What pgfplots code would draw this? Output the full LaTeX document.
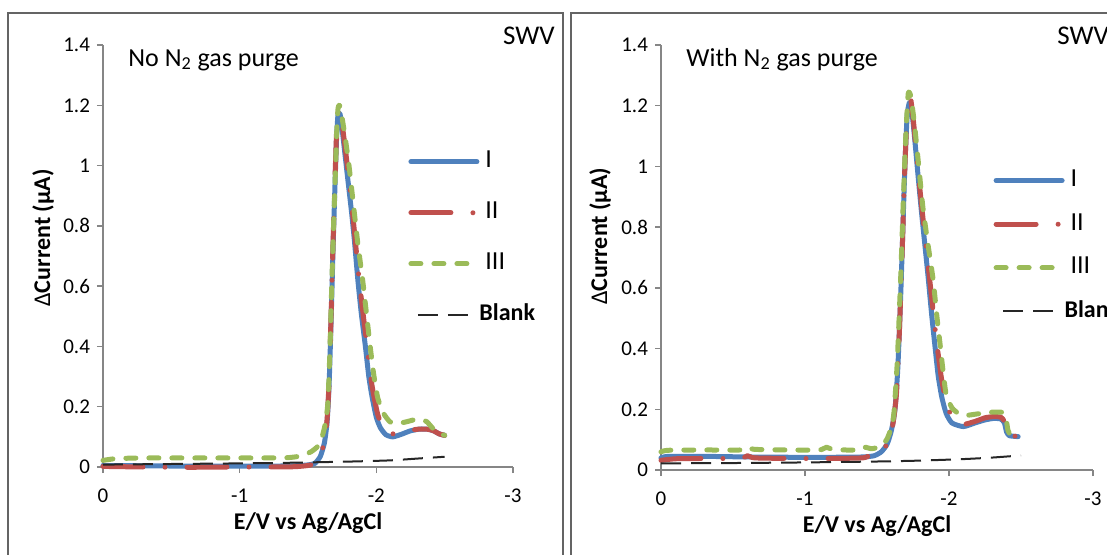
\documentclass[border=0pt]{standalone}
\usepackage{fontspec}
\setmainfont{Carlito}
\usepackage{pgfplots}
\pgfplotsset{compat=1.18}
\definecolor{xblue}{RGB}{79,129,189}
\definecolor{xred}{RGB}{192,80,77}
\definecolor{xgreen}{RGB}{155,187,89}
\definecolor{axgray}{RGB}{134,134,134}
\definecolor{framegray}{RGB}{100,100,100}
\pgfplotsset{
  swv/.style={
    scale only axis, x dir=reverse, xmin=-3, xmax=0, ymin=0, ymax=1.4,
    axis x line*=bottom, axis y line*=left,
    axis line style={axgray, line width=0.7pt, -},
    xtick={-3,-2,-1,0}, ytick={0,0.2,0.4,0.6,0.8,1,1.2,1.4},
    tick align=outside, major tick length=3pt,
    tick style={axgray, line width=0.7pt},
    every tick label/.append style={font=\fontsize{10.5}{12}\selectfont},
    xticklabel style={yshift=-4.5pt},
    /pgf/number format/assume math mode=true,
    xlabel={E/V vs Ag/AgCl},
    xlabel style={font=\bfseries\fontsize{12}{14}\selectfont, at={(axis description cs:0.5,-0.133)}, anchor=center},
    ylabel={{\mdseries Δ}Current (µA)},
    ylabel style={font=\bfseries\fontsize{12}{14}\selectfont, anchor=center},
    clip=false,
    legend style={draw=none, fill=none, inner sep=0pt, anchor=west,
      font=\fontsize{13}{15}\selectfont, cells={anchor=west},
      nodes={inner sep=0pt, text height=9pt, text depth=3pt},
      column sep=3pt},
    legend image code/.code={\draw[#1] (0pt,0pt) -- (33pt,0pt);},
  },
  sI/.style={xblue, line width=2.5pt, line cap=round, line join=round, smooth, tension=0.35},
  sII/.style={xred, line width=2.5pt, line cap=round, line join=round, dash pattern=on 20pt off 11pt on 0pt off 11pt, smooth, tension=0.35},
  sIII/.style={xgreen, line width=2.5pt, line cap=round, line join=round, dash pattern=on 5pt off 6.5pt, smooth, tension=0.35},
  sB/.style={black!85, line width=1pt, dash pattern=on 10pt off 5pt, smooth, tension=0.35,
    legend image code/.code={\draw[##1] (3.5pt,0pt) -- (28.5pt,0pt);}},
}
\begin{document}
\begin{tikzpicture}
\useasboundingbox (0,0) rectangle (553.5pt,277pt);
\clip (0,0) rectangle (553.5pt,277pt);
\draw[framegray, line width=1pt] (281.5pt,-10pt) -- (281.5pt,270.5pt) -- (4pt,270.5pt) -- (4pt,-10pt);
\draw[framegray, line width=1pt] (600pt,270.5pt) -- (285.5pt,270.5pt) -- (285.5pt,-10pt);

\begin{axis}[swv, at={(51.5pt,43.5pt)}, anchor=south west, width=205pt, height=211pt,
  ylabel style={at={(axis description cs:-0.146,0.543)}},
  legend style={at={(axis description cs:0.744,0.542)}, row sep=13.5pt}]
\addplot[sI] coordinates {(0,0.005) (-0.3,0.004) (-0.6,0.003) (-0.9,0.003) (-1.2,0.003) (-1.4,0.004) (-1.5,0.007) (-1.55,0.012) (-1.59,0.035) (-1.62,0.08) (-1.64,0.15) (-1.655,0.28) (-1.67,0.5) (-1.685,0.75) (-1.70,0.97) (-1.71,1.10) (-1.72,1.17) (-1.735,1.17) (-1.75,1.12) (-1.78,1.00) (-1.80,0.92) (-1.82,0.84) (-1.84,0.75) (-1.865,0.62) (-1.89,0.51) (-1.92,0.40) (-1.945,0.30) (-1.97,0.23) (-2.00,0.165) (-2.03,0.13) (-2.07,0.107) (-2.12,0.10) (-2.18,0.108) (-2.25,0.12) (-2.32,0.126) (-2.38,0.125) (-2.42,0.12) (-2.46,0.11) (-2.5,0.105)};
\addlegendentry{I}
\addplot[sII] coordinates {(0,0.002) (-0.3,0.0) (-0.6,-0.001) (-0.9,0.0) (-1.2,0.0) (-1.4,0.001) (-1.5,0.005) (-1.55,0.012) (-1.59,0.038) (-1.62,0.085) (-1.64,0.16) (-1.655,0.29) (-1.67,0.52) (-1.685,0.77) (-1.70,0.99) (-1.71,1.12) (-1.72,1.18) (-1.735,1.18) (-1.755,1.12) (-1.78,1.03) (-1.80,0.95) (-1.82,0.87) (-1.84,0.78) (-1.87,0.64) (-1.90,0.52) (-1.93,0.41) (-1.955,0.31) (-1.98,0.24) (-2.01,0.175) (-2.04,0.14) (-2.08,0.118) (-2.12,0.11) (-2.18,0.113) (-2.25,0.122) (-2.32,0.126) (-2.38,0.125) (-2.42,0.12) (-2.46,0.11) (-2.5,0.105)};
\addlegendentry{II}
\addplot[sIII] coordinates {(0,0.022) (-0.1,0.028) (-0.3,0.03) (-0.6,0.03) (-0.9,0.03) (-1.2,0.03) (-1.35,0.031) (-1.44,0.036) (-1.52,0.05) (-1.57,0.068) (-1.60,0.095) (-1.625,0.14) (-1.645,0.21) (-1.66,0.38) (-1.675,0.62) (-1.69,0.84) (-1.70,0.97) (-1.71,1.11) (-1.72,1.19) (-1.73,1.20) (-1.745,1.17) (-1.77,1.10) (-1.80,1.00) (-1.83,0.88) (-1.865,0.74) (-1.90,0.62) (-1.93,0.50) (-1.955,0.40) (-1.98,0.31) (-2.01,0.23) (-2.05,0.18) (-2.10,0.15) (-2.16,0.145) (-2.22,0.15) (-2.28,0.157) (-2.33,0.158) (-2.37,0.15) (-2.41,0.13) (-2.45,0.115) (-2.5,0.105)};
\addlegendentry{III}
\addplot[sB] coordinates {(0,0.008) (-0.5,0.010) (-1.0,0.012) (-1.35,0.014) (-1.8,0.018) (-2.1,0.022) (-2.3,0.028) (-2.5,0.034)};
\addlegendentry{\hspace{-3pt}\textbf{\fontsize{12}{14}\selectfont Blank}}
\end{axis}

\begin{axis}[swv, at={(330.5pt,42pt)}, anchor=south west, width=216pt, height=212.5pt,
  ylabel style={at={(axis description cs:-0.141,0.55)}},
  legend style={at={(axis description cs:0.769,0.527)}, row sep=9.8pt}]
\addplot[sI] coordinates {(0,0.04) (-0.05,0.045) (-0.3,0.045) (-0.6,0.043) (-0.9,0.042) (-1.2,0.042) (-1.4,0.043) (-1.48,0.047) (-1.53,0.06) (-1.57,0.085) (-1.60,0.13) (-1.625,0.2) (-1.645,0.34) (-1.665,0.58) (-1.68,0.80) (-1.695,1.02) (-1.71,1.17) (-1.725,1.21) (-1.74,1.19) (-1.76,1.10) (-1.785,0.97) (-1.81,0.845) (-1.835,0.73) (-1.857,0.626) (-1.88,0.51) (-1.903,0.406) (-1.925,0.31) (-1.95,0.24) (-1.98,0.187) (-2.02,0.155) (-2.10,0.143) (-2.18,0.155) (-2.25,0.165) (-2.31,0.17) (-2.36,0.168) (-2.385,0.155) (-2.40,0.125) (-2.42,0.113) (-2.48,0.11)};
\addlegendentry{I}
\addplot[sII] coordinates {(0,0.032) (-0.1,0.037) (-0.3,0.038) (-0.55,0.038) (-0.6,0.047) (-0.65,0.04) (-0.9,0.038) (-1.2,0.038) (-1.4,0.04) (-1.45,0.047) (-1.5,0.05) (-1.54,0.065) (-1.58,0.095) (-1.61,0.15) (-1.635,0.25) (-1.655,0.45) (-1.675,0.72) (-1.69,0.95) (-1.705,1.13) (-1.72,1.23) (-1.735,1.22) (-1.755,1.14) (-1.78,1.01) (-1.81,0.87) (-1.84,0.74) (-1.87,0.61) (-1.895,0.50) (-1.92,0.40) (-1.945,0.31) (-1.97,0.245) (-2.00,0.195) (-2.05,0.16) (-2.10,0.15) (-2.18,0.16) (-2.25,0.172) (-2.31,0.176) (-2.36,0.174) (-2.385,0.16) (-2.40,0.13) (-2.42,0.115) (-2.48,0.11)};
\addlegendentry{II}
\addplot[sIII] coordinates {(0,0.06) (-0.05,0.065) (-0.3,0.066) (-0.55,0.066) (-0.6,0.075) (-0.65,0.068) (-0.9,0.066) (-1.1,0.066) (-1.15,0.075) (-1.2,0.067) (-1.38,0.066) (-1.42,0.075) (-1.46,0.07) (-1.52,0.077) (-1.567,0.10) (-1.60,0.14) (-1.618,0.19) (-1.64,0.35) (-1.664,0.626) (-1.68,0.85) (-1.70,1.10) (-1.717,1.24) (-1.735,1.23) (-1.76,1.14) (-1.79,1.00) (-1.82,0.86) (-1.855,0.74) (-1.89,0.626) (-1.915,0.51) (-1.94,0.406) (-1.96,0.32) (-1.98,0.25) (-2.02,0.205) (-2.07,0.185) (-2.12,0.18) (-2.2,0.185) (-2.28,0.19) (-2.37,0.19) (-2.395,0.17) (-2.41,0.13) (-2.43,0.115) (-2.49,0.105)};
\addlegendentry{III}
\addplot[sB] coordinates {(0,0.022) (-0.5,0.023) (-1.0,0.025) (-1.5,0.028) (-1.8,0.031) (-2.1,0.036) (-2.3,0.041) (-2.5,0.048)};
\addlegendentry{\hspace{-3pt}\textbf{\fontsize{12}{14}\selectfont Blank}}
\end{axis}

\node[anchor=base west, font=\fontsize{13}{15}\selectfont, inner sep=0pt] at (64pt,244pt) {No N\textsubscript{2} gas purge};
\node[anchor=base west, font=\fontsize{13}{15}\selectfont, inner sep=0pt] at (343pt,244pt) {With N\textsubscript{2} gas purge};
\node[anchor=base east, font=\fontsize{13.5}{15}\selectfont, inner sep=0pt] at (277.5pt,255pt) {SWV};
\node[anchor=base west, font=\fontsize{13.5}{15}\selectfont, inner sep=0pt] at (528.5pt,255pt) {SWV};
\end{tikzpicture}
\end{document}
